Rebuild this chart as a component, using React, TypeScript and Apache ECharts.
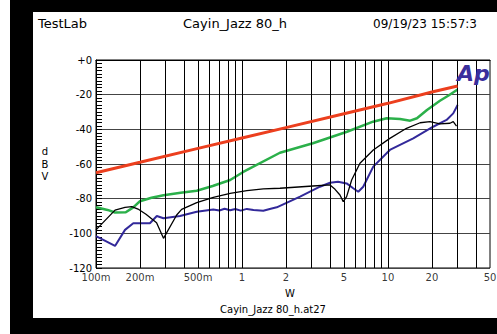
import React, { useEffect, useRef } from 'react';
import * as echarts from 'echarts';

// X axis (W, log scale)
const xTickValues = [0.1, 0.2, 0.5, 1, 2, 5, 10, 20, 50];
const xTickLabels = ['100m', '200m', '500m', '1', '2', '5', '10', '20', '50'];
const xGridValues = [0.2, 0.3, 0.4, 0.5, 0.6, 0.7, 0.8, 0.9, 1, 2, 3, 4, 5, 6, 7, 8, 9, 10, 20, 30, 40];

// Red trace
const redX = [0.1, 0.2, 0.5, 1, 2, 5, 10, 20, 30];
const redY = [-65, -59, -51, -45, -39, -31, -25, -18.5, -15];

// Green trace
const greenX = [0.1, 0.12, 0.135, 0.16, 0.18, 0.2, 0.24, 0.29, 0.38, 0.49, 0.63, 0.83, 1.02, 1.82, 3.06, 5.24, 7.9, 9.8, 12.1, 14.2, 15.8, 18.5, 22.7, 26, 30];
const greenY = [-85, -86.5, -88, -87.8, -85, -81.5, -79.5, -78, -76.6, -75.4, -72.7, -69.2, -64.6, -53.5, -48, -41.4, -35.6, -33.6, -34, -35, -33.6, -28.8, -23.5, -20.5, -17];

// Black trace
const blackX = [0.1, 0.135, 0.158, 0.176, 0.194, 0.22, 0.26, 0.29, 0.357, 0.386, 0.49, 0.636, 0.83, 1.08, 1.4, 1.82, 3.06, 4.01, 4.34, 4.69, 4.94, 5.21, 5.64, 6.43, 7.93, 10.3, 13.4, 16.6, 19.4, 22.7, 26.6, 28, 29.5];
const blackY = [-98, -86.6, -85, -84.6, -86, -89, -93.9, -102.9, -89.4, -86.2, -82.3, -79.2, -77, -75.4, -74.4, -74, -72.7, -72.1, -74.6, -77.9, -81.7, -78.8, -69.2, -59.6, -51.9, -45.2, -39.4, -36.2, -35.6, -36.9, -36.5, -35.6, -38.1];

// Navy trace
const navyX = [0.1, 0.135, 0.158, 0.18, 0.234, 0.261, 0.29, 0.376, 0.49, 0.636, 0.7, 0.76, 0.83, 0.9, 0.98, 1.08, 1.2, 1.4, 1.55, 1.73, 2.5, 3.42, 4.01, 4.55, 5.21, 5.78, 6.26, 6.77, 7.93, 10.3, 14.9, 20.4, 25.2, 28, 30];
const navyY = [-101.6, -107.3, -98, -94.2, -94.2, -90, -91.3, -90, -87.5, -86.2, -86.8, -85.8, -86.7, -86, -86.9, -85.9, -86.5, -87, -86, -85, -78.8, -73.1, -70.8, -70.2, -71.2, -74, -76, -73.1, -61.5, -51.9, -45.2, -38.5, -34.6, -30.8, -26];

const FONT = '"DejaVu Sans", Verdana, sans-serif';

const pair = (xs: number[], ys: number[]) => xs.map((x, i) => [x, ys[i]]);

export default function App() {
  const ref = useRef<HTMLDivElement>(null);

  useEffect(() => {
    const chart = echarts.init(ref.current!, null, { renderer: 'svg' });
    const lineSeries = (name: string, xs: number[], ys: number[], color: string, width: number, z: number) => ({
      name,
      type: 'line',
      data: pair(xs, ys),
      showSymbol: false,
      symbol: 'none',
      smooth: false,
      z,
      lineStyle: { color, width },
      silent: true,
    });
    chart.setOption({
      animation: false,
      backgroundColor: '#fff',
      textStyle: { fontFamily: FONT },
      grid: {
        left: 96,
        top: 60,
        right: 7,
        bottom: 66,
        show: true,
        borderColor: '#000',
        borderWidth: 1,
        backgroundColor: 'transparent',
      },
      xAxis: {
        type: 'log',
        logBase: 10,
        min: 0.1,
        max: 50,
        axisLine: { show: true, lineStyle: { color: '#000', width: 1 } },
        axisTick: { show: false },
        axisLabel: { show: false },
        splitLine: { show: false },
      },
      yAxis: {
        type: 'value',
        min: -120,
        max: 0,
        interval: 20,
        axisLine: { show: true, lineStyle: { color: '#000', width: 1 } },
        axisTick: { show: true, inside: true, length: 6, lineStyle: { color: '#000' } },
        minorTick: { show: true, splitNumber: 10, length: 6, lineStyle: { color: '#000', width: 1 } },
        axisLabel: {
          color: '#000',
          fontSize: 10,
          fontFamily: FONT,
          margin: 4,
          formatter: (v: number) => (v === 0 ? '+0' : String(v)),
        },
        splitLine: { show: true, lineStyle: { color: '#444', width: 1 } },
      },
      series: [
        {
          type: 'scatter',
          data: xTickValues.map((v) => [v, -120]),
          symbolSize: 0,
          silent: true,
          clip: false,
          z: 1,
          label: {
            show: true,
            position: 'bottom',
            distance: 4,
            color: '#000',
            fontSize: 10,
            fontFamily: FONT,
            formatter: (p: any) => xTickLabels[p.dataIndex],
          },
          markLine: {
            silent: true,
            symbol: ['none', 'none'],
            label: { show: false },
            lineStyle: { color: '#000', width: 1, type: 'solid' },
            emphasis: { disabled: true },
            data: xGridValues.map((v) => ({ xAxis: v })),
          },
        },
        lineSeries('green', greenX, greenY, '#2bb04a', 2.5, 3),
        lineSeries('navy', navyX, navyY, '#32299a', 2, 4),
        lineSeries('black', blackX, blackY, '#000', 1.3, 5),
        lineSeries('red', redX, redY, '#ec3f1e', 3, 6),
      ],
      graphic: [
        { type: 'rect', shape: { x: 10, y: 0, width: 23, height: 334 }, style: { fill: '#000' }, silent: true },
        { type: 'rect', shape: { x: 10, y: 0, width: 487, height: 12 }, style: { fill: '#000' }, silent: true },
        { type: 'rect', shape: { x: 10, y: 318, width: 487, height: 16 }, style: { fill: '#000' }, silent: true },
        { type: 'text', x: 38, y: 23.5, style: { text: 'TestLab', font: `13px ${FONT}`, fill: '#000', align: 'left', verticalAlign: 'middle' } },
        { type: 'text', x: 235, y: 23.5, style: { text: 'Cayin_Jazz 80_h', font: `13px ${FONT}`, fill: '#000', align: 'center', verticalAlign: 'middle' } },
        { type: 'text', x: 373, y: 23.5, style: { text: '09/19/23 15:57:3', font: `12px ${FONT}`, fill: '#000', align: 'left', verticalAlign: 'middle' } },
        { type: 'text', x: 45, y: 145.5, style: { text: 'd\nB\nV', font: `10px ${FONT}`, lineHeight: 12.5, fill: '#000', align: 'center', verticalAlign: 'top' } },
        { type: 'text', x: 290, y: 293, style: { text: 'W', font: `10px ${FONT}`, fill: '#000', align: 'center', verticalAlign: 'middle' } },
        { type: 'text', x: 273, y: 309, style: { text: 'Cayin_Jazz 80_h.at27', font: `10px ${FONT}`, fill: '#000', align: 'center', verticalAlign: 'middle' } },
        { type: 'text', x: 457, y: 73, z: 10, style: { text: 'Ap', font: `italic bold 22px ${FONT}`, fill: '#3b2f9c', align: 'left', verticalAlign: 'middle' } },
      ],
    });
    return () => chart.dispose();
  }, []);

  return (
    <div
      ref={ref}
      style={{ position: 'fixed', left: 0, top: 0, width: 497, height: 334, background: '#fff' }}
    />
  );
}
